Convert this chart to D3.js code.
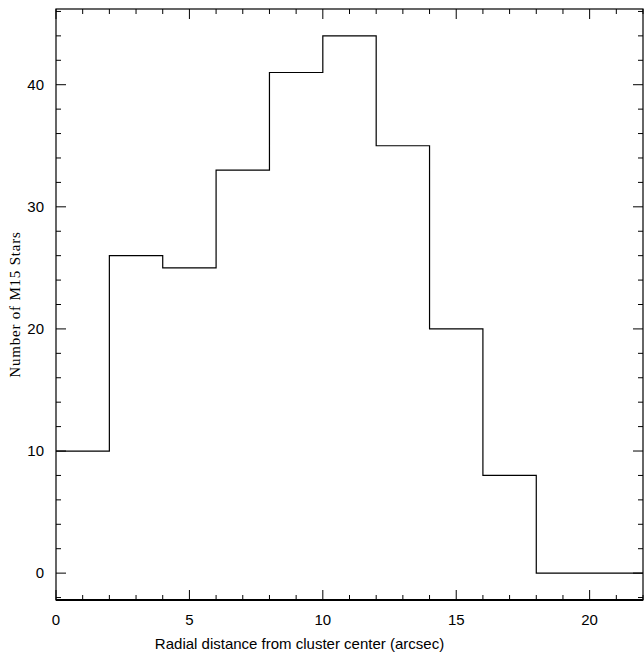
<!DOCTYPE html>
<html lang="en">
<head>
<meta charset="utf-8">
<script src="https://cdn.jsdelivr.net/npm/d3@7"></script>
<style>body{margin:0;background:#fff}</style>
</head>
<body>
<script>
// histogram bins (lower edges) and counts
var binStarts = [0, 2, 4, 6, 8, 10, 12, 14, 16, 18, 20];
var counts = [10, 26, 25, 33, 41, 44, 35, 20, 8, 0, 0];
var binWidth = 2;
var xTicks = [0, 5, 10, 15, 20];
var yTicks = [0, 10, 20, 30, 40];

var w = 644, h = 653;
var pLeft = 56, pRight = 643, pTop = 9, pBottom = 600;

var x = d3.scaleLinear().domain([0, 22]).range([pLeft, pRight]);
var y = d3.scaleLinear().domain([-2.2, 46.2]).range([pBottom, pTop]);

var svg = d3.select("body").append("svg").attr("width", w).attr("height", h);

// step line
var pts = [];
binStarts.forEach(function(b, i) {
  pts.push([b, counts[i]]);
  pts.push([b + binWidth, counts[i]]);
});
svg.append("path")
  .attr("d", d3.line().x(function(d){return x(d[0]);}).y(function(d){return y(d[1]);})(pts))
  .attr("fill", "none").attr("stroke", "#000").attr("stroke-width", 1.2);

// frame
svg.append("rect").attr("x", pLeft).attr("y", pTop).attr("width", pRight - pLeft).attr("height", pBottom - pTop)
  .attr("fill", "none").attr("stroke", "#000").attr("stroke-width", 1.2);
svg.append("line").attr("x1", pLeft).attr("x2", pRight).attr("y1", pBottom).attr("y2", pBottom)
  .attr("stroke", "#000").attr("stroke-width", 2);

// ticks
var g = svg.append("g").attr("stroke", "#000").attr("stroke-width", 1);
d3.range(0, 23, 1).forEach(function(v) {
  var len = v % 5 === 0 ? 10 : 5;
  g.append("line").attr("x1", x(v)).attr("x2", x(v)).attr("y1", pBottom).attr("y2", pBottom - len);
  g.append("line").attr("x1", x(v)).attr("x2", x(v)).attr("y1", pTop).attr("y2", pTop + len);
});
d3.range(-2, 47, 2).forEach(function(v) {
  var len = v % 10 === 0 ? 10 : 5;
  g.append("line").attr("y1", y(v)).attr("y2", y(v)).attr("x1", pLeft).attr("x2", pLeft + len);
  g.append("line").attr("y1", y(v)).attr("y2", y(v)).attr("x1", pRight).attr("x2", pRight - len);
});

var font = "Liberation Sans, Arial, sans-serif";
svg.selectAll(".xt").data(xTicks).enter().append("text")
  .attr("x", function(d){return x(d);}).attr("y", pBottom + 25)
  .attr("text-anchor", "middle").attr("font-family", font).attr("font-size", 15)
  .text(function(d){return d;});
svg.selectAll(".yt").data(yTicks).enter().append("text")
  .attr("x", pLeft - 12).attr("y", function(d){return y(d) + 5;})
  .attr("text-anchor", "end").attr("font-family", font).attr("font-size", 15)
  .text(function(d){return d;});

svg.append("text").attr("x", (pLeft + pRight) / 2 - 50).attr("y", pBottom + 49)
  .attr("text-anchor", "middle").attr("font-family", font).attr("font-size", 15)
  .text("Radial distance from cluster center (arcsec)");
svg.append("text").attr("transform", "translate(20," + ((pTop + pBottom) / 2) + ") rotate(-90)")
  .attr("text-anchor", "middle").attr("font-family", "Liberation Serif, serif").attr("font-size", 15)
  .attr("letter-spacing", 0.8)
  .text("Number of M15 Stars");
</script>
</body>
</html>
